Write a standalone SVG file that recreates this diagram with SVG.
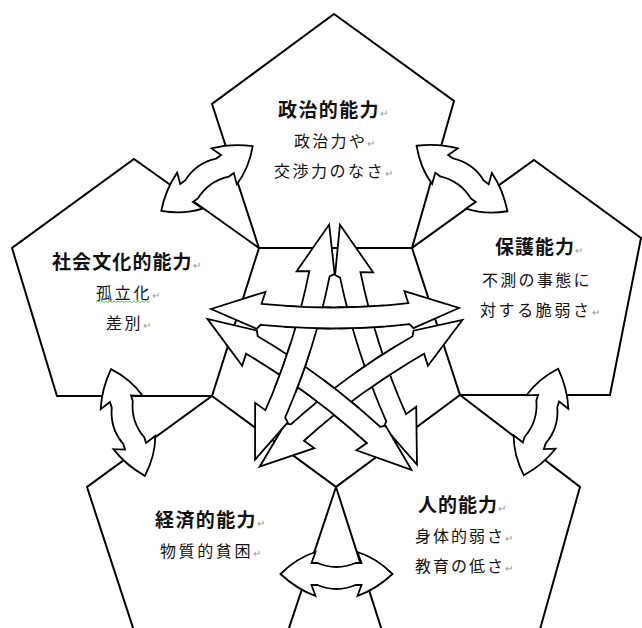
<svg xmlns="http://www.w3.org/2000/svg" width="642" height="628" viewBox="0 0 642 628">
<style>
.ln{fill:#fff;stroke:#000;stroke-width:2;stroke-linejoin:miter}
.ar{fill:#fff;stroke:#000;stroke-width:1.8;stroke-linejoin:miter}
.t{font-family:"Noto Sans CJK JP","Noto Sans CJK SC",sans-serif;fill:#111}
.h{font-size:19px;font-weight:bold}
.s{font-size:16px}
.pm{font-size:10px;fill:#999;font-weight:normal}
</style>
<defs>
<path id="sa" class="ar" d="M0,-1 L55,-18 L51,-6 Q125,2 199,-6 L195,-18 L250,-1 L204,19 L200,15 Q125,23 50,15 L46,19 Z"/>
<path id="ga" class="ar" d="M-56,0 Q-40,-16 -21,-22 L-25,-11 L-19,-11 Q0,-3 19,-11 L25,-11 L21,-22 Q40,-16 56,0 Q40,15 21,22 L25,11 L19,11 Q0,19 -19,11 L-25,11 L-21,22 Q-40,15 -56,0 Z"/>
<g id="s1"><use href="#sa" transform="translate(339,225) rotate(72.2) scale(1.008,1)"/></g>
<g id="s2"><use href="#sa" transform="translate(412,469) rotate(-143.5) scale(1.015,1)"/></g>
<g id="s3"><use href="#sa" transform="translate(211,310) rotate(-0.23) scale(0.992,1)"/></g>
<g id="s4"><use href="#sa" transform="translate(462,319) rotate(144.1) scale(1.002,1)"/></g>
<g id="s5"><use href="#sa" transform="translate(256,460) rotate(-72.5) scale(0.986,1)"/></g>
<clipPath id="c1" clipPathUnits="userSpaceOnUse"><circle cx="308" cy="317" r="26"/></clipPath>
<clipPath id="c2" clipPathUnits="userSpaceOnUse"><circle cx="361" cy="317" r="26"/></clipPath>
<clipPath id="c3" clipPathUnits="userSpaceOnUse"><circle cx="380" cy="368" r="26"/></clipPath>
<clipPath id="c4" clipPathUnits="userSpaceOnUse"><circle cx="290" cy="368" r="26"/></clipPath>
<clipPath id="c5" clipPathUnits="userSpaceOnUse"><circle cx="334" cy="403" r="26"/></clipPath>
</defs>
<rect width="642" height="628" fill="#fff"/>

<g id="node-political">
<polygon class="ln" points="334,14 454,101 412,248 259,248 212,104"/>
<text class="t h" x="278" y="117" letter-spacing="1.4">政治的能力<tspan class="pm">↵</tspan></text>
<text class="t s" x="294" y="147" letter-spacing="2.3">政治力や<tspan class="pm">↵</tspan></text>
<text class="t s" x="274" y="177" letter-spacing="2.5">交渉力のなさ<tspan class="pm">↵</tspan></text>
</g>

<g id="node-sociocultural">
<polygon class="ln" points="134,159 259,248 212,396 57,396 12,248"/>
<text class="t h" x="52" y="269" letter-spacing="1.1">社会文化的能力<tspan class="pm">↵</tspan></text>
<text class="t s" x="96" y="299" letter-spacing="2.7">孤立化<tspan class="pm">↵</tspan></text>
<path d="M96,302.5 l2,-1.5 l2,1.5 l2,-1.5 l2,1.5 l2,-1.5 l2,1.5 l2,-1.5 l2,1.5 l2,-1.5 l2,1.5 l2,-1.5 l2,1.5 l2,-1.5 l2,1.5 l2,-1.5 l2,1.5 l2,-1.5 l2,1.5 l2,-1.5 l2,1.5 l2,-1.5 l2,1.5 l2,-1.5 l2,1.5 l2,-1.5 l2,1.5 l2,-1.5" fill="none" stroke="#5b5" stroke-width="0.9"/>
<text class="t s" x="106" y="329" letter-spacing="2.5">差別<tspan class="pm">↵</tspan></text>
</g>

<g id="node-protection">
<polygon class="ln" points="534,160 641,238 610,395 460,395 412,248"/>
<text class="t h" x="495" y="254" letter-spacing="1">保護能力<tspan class="pm">↵</tspan></text>
<text class="t s" x="482" y="286" letter-spacing="2.3">不測の事態に</text>
<text class="t s" x="480" y="316" letter-spacing="2.6">対する脆弱さ<tspan class="pm">↵</tspan></text>
</g>

<g id="node-economic">
<polygon class="ln" points="212,396 336,487 285,640 137,640 87,487"/>
<text class="t h" x="155" y="527" letter-spacing="1.4">経済的能力<tspan class="pm">↵</tspan></text>
<text class="t s" x="160" y="557" letter-spacing="2.6">物質的貧困<tspan class="pm">↵</tspan></text>
</g>

<g id="node-human">
<polygon class="ln" points="460,395 580,487 537,640 385,640 336,487"/>
<text class="t h" x="418" y="512" letter-spacing="1">人的能力<tspan class="pm">↵</tspan></text>
<text class="t s" x="415" y="542" letter-spacing="2">身体的弱さ<tspan class="pm">↵</tspan></text>
<text class="t s" x="415" y="572" letter-spacing="2">教育の低さ<tspan class="pm">↵</tspan></text>
</g>

<g id="connectors">
<use href="#ga" transform="translate(207,178.5) rotate(144.8)"/>
<use href="#ga" transform="translate(462,178.5) rotate(-144.2)"/>
<use href="#ga" transform="translate(128,422.5) rotate(72.4)"/>
<use href="#ga" transform="translate(541,422) rotate(-72.2)"/>
<use href="#ga" transform="translate(336.5,574)"/>
<use href="#s1"/>
<use href="#s2"/>
<use href="#s3"/>
<use href="#s4"/>
<use href="#s5"/>
<use href="#s3" clip-path="url(#c1)"/>
<use href="#s3" clip-path="url(#c2)"/>
<use href="#s4" clip-path="url(#c3)"/>
<use href="#s5" clip-path="url(#c4)"/>
<use href="#s2" clip-path="url(#c5)"/>
</g>
</svg>
